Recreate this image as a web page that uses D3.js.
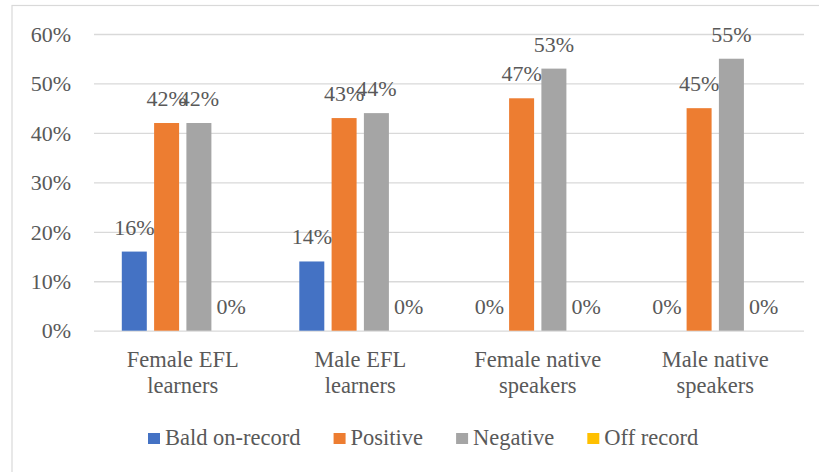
<!DOCTYPE html>
<html>
<head>
<meta charset="utf-8">
<script src="https://cdn.jsdelivr.net/npm/d3@7"></script>
<style>
  html, body { margin: 0; padding: 0; background: #fff; }
  svg text { fill: #595959; }
</style>
</head>
<body>
<svg id="chart" width="819" height="472"></svg>
<script>
// Politeness strategies by group (proportions)
const categories = [
  ["Female EFL", "learners"],
  ["Male EFL", "learners"],
  ["Female native", "speakers"],
  ["Male native", "speakers"]
];
const seriesNames = ["Bald on-record", "Positive", "Negative", "Off record"];
const seriesColors = ["#4472C4", "#ED7D31", "#A5A5A5", "#FFC000"];
const baldOnRecord = [0.16, 0.14, 0.00, 0.00];
const positive     = [0.42, 0.43, 0.47, 0.45];
const negative     = [0.42, 0.44, 0.53, 0.55];
const offRecord    = [0.00, 0.00, 0.00, 0.00];
const yTicks = [0, 0.1, 0.2, 0.3, 0.4, 0.5, 0.6];

const seriesValues = [baldOnRecord, positive, negative, offRecord];
const FONT = '"Liberation Serif", "Times New Roman", "Nimbus Roman", "Nimbus Roman No9 L", "FreeSerif", "Noto Serif", "DejaVu Serif", "Liberation Sans", serif';

const svg = d3.select("#chart");

// chart frame
svg.append("rect")
  .attr("x", 12).attr("y", 5.5)
  .attr("width", 840).attr("height", 500)
  .attr("fill", "#fff").attr("stroke", "#d9d9d9").attr("stroke-width", 1.2);

const plot = { left: 94, right: 804, top: 34, bottom: 330.7 };

const y = d3.scaleLinear().domain([0, 0.6]).range([plot.bottom, plot.top]);
const catIdx = d3.range(categories.length);
const x0 = d3.scaleBand().domain(catIdx).range([plot.left, plot.right]).padding(0);
const outer = 24.15;
const x1 = d3.scaleBand().domain(d3.range(seriesNames.length))
  .range([outer, x0.bandwidth() - outer])
  .paddingInner(0.226).paddingOuter(0.113);

// gridlines and tick labels
const yAxis = d3.axisLeft(y).tickValues(yTicks).tickFormat(d3.format(".0%"))
  .tickSize(-(plot.right - plot.left)).tickPadding(23);
const gy = svg.append("g").attr("transform", `translate(${plot.left},0)`).call(yAxis);
gy.attr("font-family", FONT);
gy.select(".domain").remove();
gy.selectAll(".tick line").attr("stroke", "#d9d9d9").attr("stroke-width", 1.3);
gy.selectAll(".tick text")
  .attr("font-size", 22).attr("dy", "0.33em")
  .attr("fill", "#595959");

// bars and value labels
const groups = svg.append("g").attr("font-family", FONT).selectAll("g")
  .data(catIdx).join("g")
  .attr("transform", i => `translate(${x0(i)},0)`);

groups.selectAll("rect")
  .data(i => seriesValues.map((vals, s) => ({ s, v: vals[i] })))
  .join("rect")
  .attr("x", d => x1(d.s))
  .attr("width", x1.bandwidth())
  .attr("y", d => y(d.v))
  .attr("height", d => y(0) - y(d.v))
  .attr("fill", d => seriesColors[d.s]);

groups.selectAll("text.val")
  .data(i => seriesValues.map((vals, s) => ({ s, v: vals[i] })))
  .join("text").attr("class", "val")
  .attr("x", d => x1(d.s) + x1.bandwidth() / 2)
  .attr("y", d => y(d.v) - 17)
  .attr("text-anchor", "middle")
  .attr("font-size", 22)
  .text(d => d3.format(".0%")(d.v));

// category labels
const catLabels = svg.append("g").attr("font-family", FONT).selectAll("text")
  .data(catIdx).join("text")
  .attr("x", i => x0(i) + x0.bandwidth() / 2)
  .attr("y", 366.7)
  .attr("text-anchor", "middle")
  .attr("font-size", 22.5);
catLabels.selectAll("tspan")
  .data(i => categories[i].map((t, k) => ({ t, k })))
  .join("tspan")
  .attr("x", function () { return d3.select(this.parentNode).attr("x"); })
  .attr("dy", d => d.k === 0 ? 0 : 26.6)
  .text(d => d.t);

// legend
const legend = svg.append("g").attr("font-family", FONT);
let lx = 148;
seriesNames.forEach((name, s) => {
  legend.append("rect")
    .attr("x", lx).attr("y", 433)
    .attr("width", 12).attr("height", 11)
    .attr("fill", seriesColors[s]);
  const t = legend.append("text")
    .attr("x", lx + 17).attr("y", 445)
    .attr("font-size", 22.5)
    .text(name);
  lx += 17 + t.node().getComputedTextLength() + 33;
});
</script>
</body>
</html>
